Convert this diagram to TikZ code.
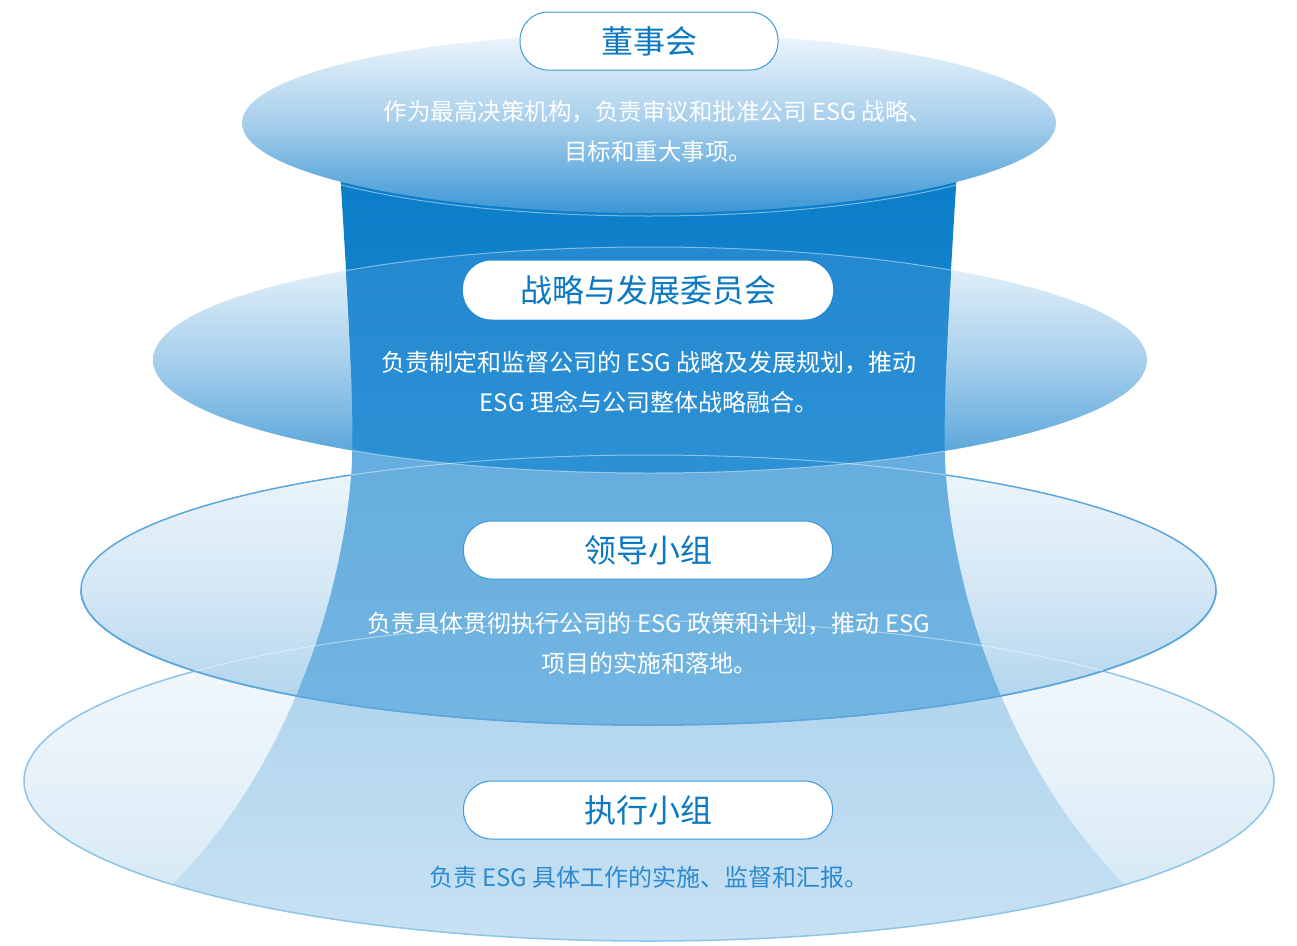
\documentclass[tikz,border=0pt]{standalone}
\usepackage{fontspec}
\setmainfont{Noto Sans CJK SC}
\definecolor{eOneTop}{HTML}{EEF6FC}
\definecolor{eOneMid}{HTML}{A6CEEB}
\definecolor{eOneBot}{HTML}{3B97D5}
\definecolor{eTwoTop}{HTML}{EDF5FC}
\definecolor{eTwoMid}{HTML}{A8D0EC}
\definecolor{eTwoBot}{HTML}{4A9ED8}
\definecolor{eThreeTop}{HTML}{EEF6FB}
\definecolor{eThreeMid}{HTML}{D4E7F5}
\definecolor{eThreeBot}{HTML}{AAD1EC}
\definecolor{eFourTop}{HTML}{F5FAFD}
\definecolor{eFourMid}{HTML}{E6F1F9}
\definecolor{eFourBot}{HTML}{D0E6F4}
\definecolor{eThreeLine}{HTML}{5AA6DD}
\definecolor{eFourLine}{HTML}{8EC4E7}
\definecolor{tDarkTop}{HTML}{0A7DC8}
\definecolor{tDarkBot}{HTML}{1A85CE}
\definecolor{tTwoTop}{HTML}{2389D0}
\definecolor{tTwoBot}{HTML}{2C90D4}
\definecolor{tMidTop}{HTML}{63ACDE}
\definecolor{tMidBot}{HTML}{73B5E1}
\definecolor{tLowTop}{HTML}{A9D1EC}
\definecolor{tLowBot}{HTML}{C8E1F3}
\definecolor{titleBlue}{HTML}{0A78C2}
\definecolor{pillLine}{HTML}{3C9AD8}
\definecolor{lowText}{HTML}{2E8AD0}
\begin{document}
\begin{tikzpicture}[x=1pt,y=-1pt,
  pill/.style={draw=pillLine, line width=1pt, fill=white, rounded corners=28pt,
    minimum height=58pt, text=titleBlue, font=\fontsize{32}{32}\selectfont, inner sep=0pt},
  desc/.style={text=white, font=\fontsize{24}{40}\selectfont, align=center, inner sep=0pt},
  faint/.style={white, opacity=0.45, line width=1pt}]
\useasboundingbox (0,0) rectangle (1297,945);
\def\eone{(649,123) ellipse [x radius=407pt, y radius=90pt]}
\def\etwo{(650,360) ellipse [x radius=497pt, y radius=113pt]}
\def\ethree{(648.5,590) ellipse [x radius=567.5pt, y radius=135pt]}
\def\efour{(649,781) ellipse [x radius=625pt, y radius=160pt]}
\def\trunk{(340,170) .. controls (348,300) and (354,400) .. (352,460) .. controls (348,570) and (298,760) .. (170,887) -- (100,960) -- (1197,960) -- (1127,887) .. controls (999,760) and (949,570) .. (945,460) .. controls (943,400) and (949,300) .. (957,170) -- cycle}
% bottom ellipse
\shade[top color=eFourTop, bottom color=eFourBot, middle color=eFourMid] \efour;
\begin{scope}
  \clip \efour; \clip \trunk;
  \shade[top color=tLowTop, bottom color=tLowBot] (0,600) rectangle (1297,945);
\end{scope}
\draw[eFourLine, line width=1.5pt] \efour;
% third ellipse
\shade[top color=eThreeTop, bottom color=eThreeBot, middle color=eThreeMid] \ethree;
\draw[eThreeLine, line width=1.5pt] \ethree;
\begin{scope}
  \clip \trunk; \clip \ethree;
  \shade[top color=tMidTop, bottom color=tMidBot] (0,400) rectangle (1297,725);
\end{scope}
\begin{scope}
  \clip \trunk; \clip (0,400) rectangle (1297,590);
  \shade[top color=tMidTop, bottom color=tMidBot] (0,400) rectangle (1297,725);
\end{scope}
\begin{scope}
  \clip (0,590) rectangle (1297,945);
  \draw[eThreeLine, line width=1.5pt] \ethree;
\end{scope}
\begin{scope}
  \clip \ethree;
  \draw[faint] \efour;
\end{scope}
% second ellipse
\shade[top color=eTwoTop, bottom color=eTwoBot, middle color=eTwoMid] \etwo;
\begin{scope}
  \clip \trunk;
  \shade[top color=tDarkTop, bottom color=tDarkBot] (0,170) rectangle (1297,361);
\end{scope}
\begin{scope}
  \clip \trunk; \clip \etwo;
  \shade[top color=tTwoTop, bottom color=tTwoBot] (0,247) rectangle (1297,473);
\end{scope}
\begin{scope}
  \clip \trunk;
  \draw[faint] \etwo;
  \begin{scope}
    \clip (0,400) rectangle (1297,590);
    \draw[faint] \ethree;
  \end{scope}
  \draw[faint] (649,126) ellipse [x radius=407pt, y radius=90pt];
\end{scope}
% top ellipse
\shade[top color=eOneTop, bottom color=eOneBot, middle color=eOneMid] \eone;
% labels
\node[pill, minimum width=258pt] (board) at (649,41) {董事会};
\node[pill, draw=white, minimum width=369pt] (strategy) at (648,290) {战略与发展委员会};
\node[pill, minimum width=369pt] (lead) at (648,550) {领导小组};
\node[pill, minimum width=369pt] (exec) at (648,810) {执行小组};
\node[desc, font=\fontsize{23.5}{40}\selectfont] (boardtext) at (658,132) {作为最高决策机构，负责审议和批准公司 ESG 战略、\\目标和重大事项。};
\node[desc] (strategytext) at (649,382.5) {负责制定和监督公司的 ESG 战略及发展规划，推动\\ESG 理念与公司整体战略融合。};
\node[desc] (leadtext) at (649,643) {负责具体贯彻执行公司的 ESG 政策和计划，推动 ESG\\项目的实施和落地。};
\node[desc, text=lowText] (exectext) at (649,877) {负责 ESG 具体工作的实施、监督和汇报。};
\end{tikzpicture}
\end{document}
